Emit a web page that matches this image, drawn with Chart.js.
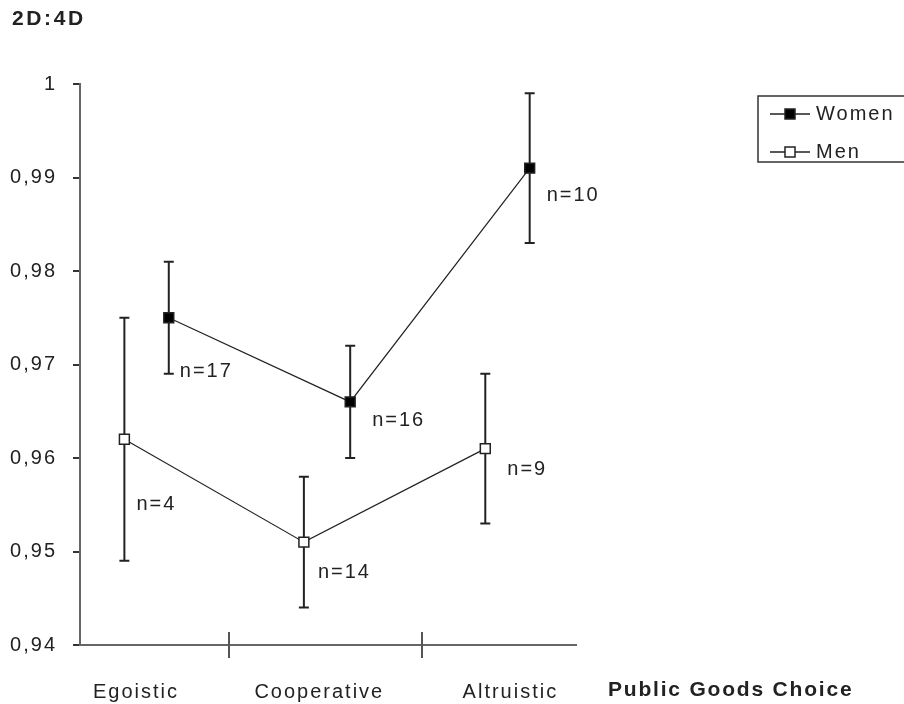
<!DOCTYPE html>
<html>
<head>
<meta charset="utf-8">
<script src="https://cdn.jsdelivr.net/npm/chart.js@4.4.1/dist/chart.umd.min.js"></script>
<style>
  html, body { margin: 0; padding: 0; background: #fff; }
</style>
</head>
<body>
<canvas id="chart" width="904" height="704"></canvas>
<script>
// Data
const categories = ['Egoistic', 'Cooperative', 'Altruistic'];
const yTicks = [0.94, 0.95, 0.96, 0.97, 0.98, 0.99, 1];

// x in category units (category boundaries at 1 and 2)
const womenX = [0.69, 1.63, 2.56];
const womenMean = [0.975, 0.966, 0.991];
const womenErr = [0.006, 0.006, 0.008];
const womenN = [17, 16, 10];

const menX = [0.46, 1.39, 2.33];
const menMean = [0.962, 0.951, 0.961];
const menErr = [0.013, 0.007, 0.008];
const menN = [4, 14, 9];

// where the category names sit, in category units
const categoryLabelX = [0.52, 1.47, 2.46];

// pixel offsets of the "n=" labels from their points
const womenLabelOffset = [[11, 54], [22, 19], [17, 27]];
const menLabelOffset = [[12, 65], [14, 30], [22, 21]];

const FONT = 'Liberation Sans, Arial, sans-serif';
const TEXT = '#222';
const SPACING = '2px';

const series = [
  { label: 'Women', x: womenX, mean: womenMean, err: womenErr, n: womenN, off: womenLabelOffset, fill: '#000' },
  { label: 'Men', x: menX, mean: menMean, err: menErr, n: menN, off: menLabelOffset, fill: '#fff' }
];

const spacingPlugin = {
  id: 'spacing',
  beforeUpdate(chart) { chart.ctx.letterSpacing = SPACING; },
  beforeDraw(chart) { chart.ctx.letterSpacing = SPACING; }
};

const extras = {
  id: 'extras',
  beforeDatasetsDraw(chart) {
    const { ctx, scales: { x, y } } = chart;
    ctx.save();
    // error bars
    ctx.strokeStyle = '#222';
    ctx.lineWidth = 2;
    series.forEach(s => {
      s.x.forEach((xv, i) => {
        const px = x.getPixelForValue(xv);
        const top = y.getPixelForValue(s.mean[i] + s.err[i]);
        const bot = y.getPixelForValue(s.mean[i] - s.err[i]);
        ctx.beginPath();
        ctx.moveTo(px, top); ctx.lineTo(px, bot);
        ctx.moveTo(px - 5, top); ctx.lineTo(px + 5, top);
        ctx.moveTo(px - 5, bot); ctx.lineTo(px + 5, bot);
        ctx.stroke();
      });
    });
    ctx.restore();
  },
  afterDraw(chart) {
    const { ctx, scales: { x, y }, chartArea } = chart;
    ctx.save();
    ctx.letterSpacing = SPACING;

    // tick marks crossing the category axis at category boundaries
    ctx.strokeStyle = '#555';
    ctx.lineWidth = 2;
    [1, 2].forEach(v => {
      const px = Math.round(x.getPixelForValue(v));
      ctx.beginPath();
      ctx.moveTo(px, chartArea.bottom - 13);
      ctx.lineTo(px, chartArea.bottom + 13);
      ctx.stroke();
    });

    // n= labels
    ctx.fillStyle = TEXT;
    ctx.font = '20px ' + FONT;
    ctx.textAlign = 'left';
    ctx.textBaseline = 'middle';
    series.forEach(s => {
      s.x.forEach((xv, i) => {
        const px = x.getPixelForValue(xv);
        const py = y.getPixelForValue(s.mean[i]);
        ctx.fillText('n=' + s.n[i], px + s.off[i][0], py + s.off[i][1]);
      });
    });

    // axis titles
    ctx.font = 'bold 21px ' + FONT;
    ctx.letterSpacing = '2.6px';
    ctx.fillText('2D:4D', 12, 19);
    ctx.letterSpacing = '1.8px';
    ctx.fillText('Public Goods Choice', 608, 690);
    ctx.letterSpacing = SPACING;

    // legend
    const lx = 758, ly = 96, lw = 160, lh = 66;
    ctx.strokeStyle = '#333';
    ctx.lineWidth = 1.5;
    ctx.strokeRect(lx, ly, lw, lh);
    ctx.font = '20px ' + FONT;
    chart.data.datasets.forEach((ds, i) => {
      const cy = ly + 18 + i * 38;
      ctx.strokeStyle = '#222';
      ctx.lineWidth = 1.5;
      ctx.beginPath();
      ctx.moveTo(lx + 12, cy); ctx.lineTo(lx + 52, cy);
      ctx.stroke();
      ctx.fillStyle = ds.pointBackgroundColor;
      ctx.fillRect(lx + 27, cy - 5, 10, 10);
      ctx.strokeRect(lx + 27, cy - 5, 10, 10);
      ctx.fillStyle = TEXT;
      ctx.fillText(ds.label, lx + 58, cy);
    });
    ctx.restore();
  }
};

new Chart(document.getElementById('chart'), {
  type: 'line',
  data: {
    datasets: series.map(s => ({
      label: s.label,
      data: s.x.map((xv, i) => ({ x: xv, y: s.mean[i] })),
      borderColor: '#222',
      borderWidth: 1.2,
      pointStyle: 'rect',
      pointRadius: 7,
      pointBackgroundColor: s.fill,
      pointBorderColor: '#222',
      pointBorderWidth: 1.5,
      tension: 0
    }))
  },
  options: {
    responsive: false,
    animation: false,
    layout: { padding: { top: 84, right: 328, bottom: 0, left: 0 } },
    plugins: {
      legend: { display: false },
      tooltip: { enabled: false }
    },
    scales: {
      x: {
        type: 'linear',
        min: 0.23,
        max: 2.8,
        afterBuildTicks: s => { s.ticks = categoryLabelX.map(v => ({ value: v })); },
        afterFit: s => { s.height = 59; },
        ticks: {
          autoSkip: false,
          maxRotation: 0,
          padding: 35,
          color: TEXT,
          font: { family: FONT, size: 20 },
          callback: (v, i) => categories[i]
        },
        grid: { drawOnChartArea: false, drawTicks: false },
        border: { display: true, color: '#666', width: 2 }
      },
      y: {
        min: 0.94,
        max: 1,
        afterBuildTicks: s => { s.ticks = yTicks.map(v => ({ value: v })); },
        afterFit: s => { s.width = 80; },
        ticks: {
          padding: 16,
          color: TEXT,
          font: { family: FONT, size: 20 },
          callback: v => v === 1 ? '1' : v.toFixed(2).replace('.', ',')
        },
        grid: { drawOnChartArea: false, tickLength: 7, color: '#333', lineWidth: 2 },
        border: { display: true, color: '#666', width: 2 }
      }
    }
  },
  plugins: [spacingPlugin, extras]
});
</script>
</body>
</html>
